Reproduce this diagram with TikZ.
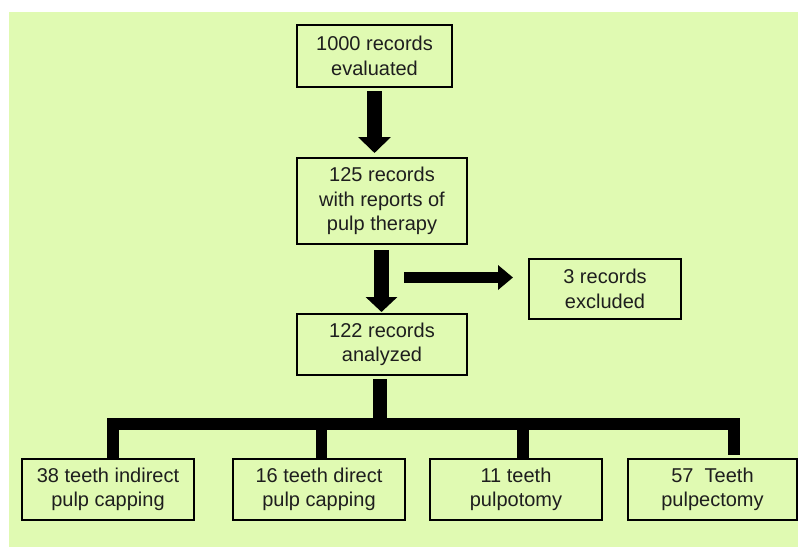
\documentclass[tikz,border=0pt]{standalone}
\usepackage{fontspec}
\setmainfont{Liberation Sans}
\usetikzlibrary{arrows.meta}
\definecolor{bggreen}{RGB}{224,250,178}
\definecolor{txt}{RGB}{30,30,30}
\begin{document}
\begin{tikzpicture}[x=1pt,y=-1pt,
  box/.style={draw=black,line width=2pt,fill=bggreen,text=txt,align=center,
    inner sep=0pt,outer sep=0pt,font=\fontsize{20}{24.5}\selectfont},
  tree/.style={line width=11.5pt,draw=black,line join=miter}]
\useasboundingbox (0,0) rectangle (798,547);
\fill[white] (0,0) rectangle (798,547);
\fill[bggreen] (9,12) rectangle (798,547);

\node[box,minimum width=155pt,minimum height=62pt] (b1) at (374.5,56) {1000 records\\evaluated};
\node[box,minimum width=170pt,minimum height=86pt] (b2) at (382,201) {125 records\\with reports of\\pulp therapy};
\node[box,minimum width=152pt,minimum height=60pt] (b3) at (605,289) {3 records\\excluded};
\node[box,minimum width=170pt,minimum height=61pt] (b4) at (382,344.5) {122 records\\analyzed};
\node[box,minimum width=172pt,minimum height=61pt] (bA) at (108,489.5) {38 teeth indirect\\pulp capping};
\node[box,minimum width=172pt,minimum height=61pt] (bB) at (319,489.5) {16 teeth direct\\pulp capping};
\node[box,minimum width=172pt,minimum height=61pt] (bC) at (516,489.5) {11 teeth\\pulpotomy};
\node[box,minimum width=169pt,minimum height=61pt] (bD) at (712.5,489.5) {57\ \ Teeth\\pulpectomy};

% block arrows
\coordinate (a1e) at (b1.south |- b2.north);
\draw[line width=15pt,-{Triangle[width=32pt,length=16pt]}]
  ([yshift=-4pt]b1.south) -- ([yshift=5pt]a1e);
\draw[line width=15pt,-{Triangle[width=31pt,length=15pt]}]
  ([xshift=-0.5pt,yshift=-6pt]b2.south) -- ([xshift=-0.5pt,yshift=2pt]b4.north);
\coordinate (hs) at (404,277.5);
\coordinate (he) at ([xshift=-16pt,yshift=11.5pt]b3.west);
\draw[line width=11pt,-{Triangle[width=24pt,length=15pt]}] (hs) -- (he);

% tree
\coordinate (bus) at ([xshift=-2pt]b4.south |- 0,424);
\draw[line width=14pt] ([xshift=-2pt,yshift=-4pt]b4.south) -- (bus);
\draw[tree] ([xshift=5pt]bA.north) -- ([xshift=5pt]bA.north |- bus)
  -- ([xshift=21.5pt]bD.north |- bus) -- ([xshift=21.5pt,yshift=4pt]bD.north);
\draw[tree] ([xshift=2.5pt]bB.north) -- ([xshift=2.5pt]bB.north |- bus);
\draw[tree] ([xshift=7pt]bC.north) -- ([xshift=7pt]bC.north |- bus);
\end{tikzpicture}
\end{document}
